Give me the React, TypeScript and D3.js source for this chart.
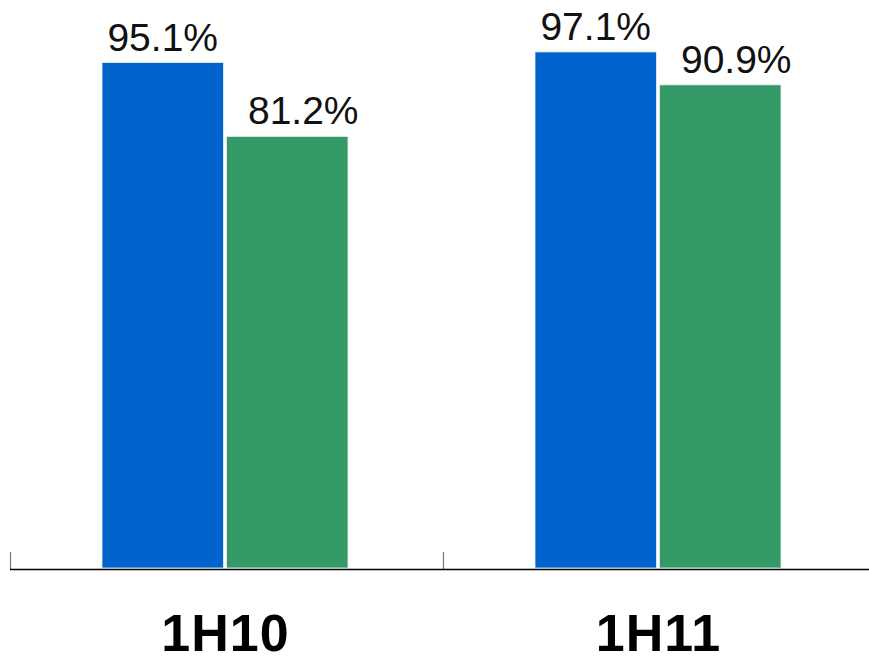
import React from "react";
import * as d3 from "d3";

const categories = ["1H10", "1H11"];
const seriesNames = ["A", "B"];
const seriesA = [95.1, 97.1];
const seriesB = [81.2, 90.9];
const valueLabels = [["95.1%", "81.2%"], ["97.1%", "90.9%"]];

const W = 869;
const H = 658;
const colors = ["#0064CC", "#339966"];
const labelDx = [0, 16];

export default function App() {
  const baseY = 568;
  const x0 = d3.scaleBand<string>().domain(categories).range([10, 876]).padding(0);
  const x1 = d3.scaleBand<string>().domain(seriesNames).range([92, 338]).paddingInner(0.025).paddingOuter(0);
  const y = d3.scaleLinear().domain([0, 100]).range([baseY, 36.5]);
  const values = [seriesA, seriesB];

  return (
    <svg width={W} height={H} style={{ position: "absolute", left: 0, top: 0, background: "#fff" }}
      fontFamily="'Liberation Sans', Arial, sans-serif">
      {categories.map((c, ci) => (
        <g key={c} transform={`translate(${x0(c)},0)`}>
          {seriesNames.map((s, si) => {
            const v = values[si][ci];
            const bx = x1(s)!;
            const bw = x1.bandwidth();
            return (
              <g key={s}>
                <rect x={bx} y={y(v)} width={bw} height={baseY - y(v)} fill={colors[si]}
                  stroke="#e6f0ee" strokeWidth={0.8} />
                <text x={bx + bw / 2 + labelDx[si]} y={y(v) - 12} textAnchor="middle" fontSize={39} fill="#111">
                  {valueLabels[ci][si]}
                </text>
              </g>
            );
          })}
          <text x={x0.bandwidth() / 2 - 1} y={651} textAnchor="middle" fontSize={52} fontWeight="bold" fill="#000"
            letterSpacing={1}>
            {c}
          </text>
        </g>
      ))}
      {categories.map((c) => (
        <line key={"t" + c} x1={x0(c)! + 0.5} x2={x0(c)! + 0.5} y1={552} y2={569} stroke="#777" strokeWidth={1.2} />
      ))}
      <line x1={10} x2={W} y1={569.5} y2={569.5} stroke="#000" strokeWidth={1.5} />
    </svg>
  );
}
